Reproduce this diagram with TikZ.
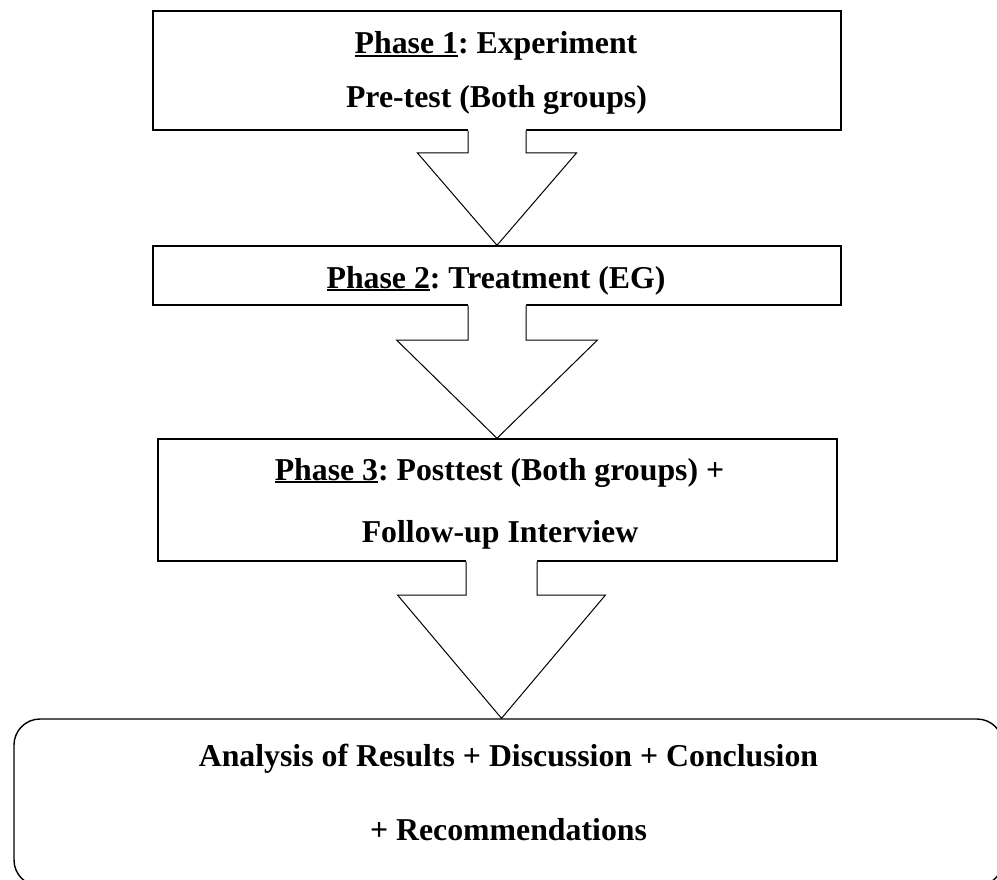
\documentclass[tikz,border=0pt]{standalone}
\usepackage{fontspec}
\setmainfont{Liberation Serif}
\usetikzlibrary{calc}
\frenchspacing

% underline that sits a little below the baseline
\newcommand{\phaseul}[1]{\setbox0\hbox{#1}\rlap{\rule[-0.11em]{\wd0}{0.065em}}\box0}

\tikzset{
  stagebox/.style={draw, line width=1.4pt, fill=white, inner sep=0pt},
  lbl/.style={font=\fontsize{31.8}{38}\bfseries\selectfont, inner sep=0pt, anchor=base},
  arrowline/.style={line width=1pt, line join=miter},
}

% block arrow from the bottom of #1 to the top of #2
% #3: axis coordinate (x = axis, y = shoulder level), #4: shaft half width, #5: head half width
\newcommand{\blockarrow}[5]{%
  \fill[white] let \p1=(#1.south), \p2=(#2.north), \p3=(#3) in
    (\x3-#4,\y1+1.5pt) -- (\x3-#4,\y3) -- (\x3-#5,\y3) -- (\x3,\y2)
    -- (\x3+#5,\y3) -- (\x3+#4,\y3) -- (\x3+#4,\y1+1.5pt) -- cycle;
  \draw[arrowline] let \p1=(#1.south), \p2=(#2.north), \p3=(#3) in
    (\x3-#4,\y1) -- (\x3-#4,\y3) -- (\x3-#5,\y3) -- (\x3,\y2)
    -- (\x3+#5,\y3) -- (\x3+#4,\y3) -- (\x3+#4,\y1);
}

\begin{document}
\begin{tikzpicture}[x=1pt,y=-1pt]
\useasboundingbox (0,0) rectangle (997,880);
\clip (0,0) rectangle (997,880);

% stage boxes
\node[stagebox, minimum width=688pt, minimum height=119pt] (b1) at (497,70.5) {};
\node[stagebox, minimum width=688pt, minimum height=59pt] (b2) at (497,275.5) {};
\node[stagebox, minimum width=679pt, minimum height=122pt] (b3) at (497.5,500) {};
\node[stagebox, rounded corners=26pt, minimum width=989pt, minimum height=167pt] (b4) at (508.5,802.5) {};

% labels
\node[lbl] (t1a) at (496,54) {\phaseul{Phase 1}: Experiment};
\node[lbl] (t1b) at (496.5,108) {Pre-test (Both groups)};
\node[lbl] (t2) at (496,288) {\phaseul{Phase 2}: Treatment (EG)};
\node[lbl] (t3a) at (499.5,480) {\phaseul{Phase 3}: Posttest (Both groups) +};
\node[lbl] (t3b) at (500,542) {Follow-up Interview};
\node[lbl] (t4a) at (508.5,766) {Analysis of Results + Discussion + Conclusion};
\node[lbl] (t4b) at (508.5,840) {+ Recommendations};

% arrow axes
\coordinate (ax1) at (497,153);
\coordinate (ax2) at (497,340);
\coordinate (ax3) at (501.5,595);

\blockarrow{b1}{b2}{ax1}{29pt}{79.5pt}
\blockarrow{b2}{b3}{ax2}{29pt}{100.5pt}
\blockarrow{b3}{b4}{ax3}{35.5pt}{104pt}
\end{tikzpicture}
\end{document}
